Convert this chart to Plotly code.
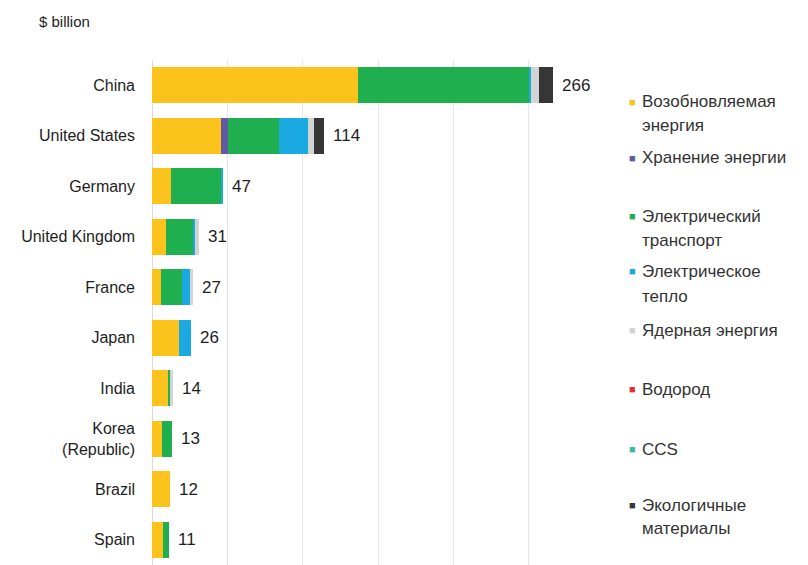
import plotly.graph_objects as go

countries = ["China", "United States", "Germany", "United Kingdom", "France",
             "Japan", "India", "Korea<br>(Republic)", "Brazil", "Spain"]
totals = [266, 114, 47, 31, 27, 26, 14, 13, 12, 11]

series_names = ["Возобновляемая энергия", "Хранение энергии", "Электрический транспорт",
                "Электрическое тепло", "Ядерная энергия", "Водород", "CCS",
                "Экологичные материалы"]
legend_lines = [["Возобновляемая", "энергия"], ["Хранение энергии"],
                ["Электрический", "транспорт"], ["Электрическое", "тепло"],
                ["Ядерная энергия"], ["Водород"], ["CCS"], ["Экологичные", "материалы"]]

renewables = [137, 46, 12.5, 9, 6, 18, 11, 6.5, 12, 7]
storage = [0, 4.5, 0, 0, 0, 0, 0, 0, 0, 0]
ev_transport = [113, 34, 33.5, 18.5, 14, 0, 1, 6.5, 0, 4]
electric_heat = [1.5, 19, 1, 1, 5.5, 8, 0, 0, 0, 0]
nuclear = [5.5, 4, 0, 2.5, 1.5, 0, 2, 0, 0, 0]
hydrogen = [0, 0, 0, 0, 0, 0, 0, 0, 0, 0]
ccs = [0, 0, 0, 0, 0, 0, 0, 0, 0, 0]
materials = [9, 6.5, 0, 0, 0, 0, 0, 0, 0, 0]

series_values = [renewables, storage, ev_transport, electric_heat, nuclear,
                 hydrogen, ccs, materials]
colors = ["#FBC31C", "#5E5AA6", "#1FAF4E", "#1AA9E1", "#D4D4D4",
          "#E0303A", "#3DB89E", "#363636"]

W, H = 808, 565
L, R, T, B = 152, 204, 60, 0
pw, ph = W - L - R, H - T - B

fig = go.Figure()
for name, vals, col in zip(series_names, series_values, colors):
    fig.add_trace(go.Bar(
        y=countries, x=vals, name=name, orientation="h",
        marker=dict(color=col, line=dict(width=0)),
        showlegend=False, hoverinfo="x+name",
    ))

# value labels
for c, t in zip(countries, totals):
    fig.add_annotation(x=t, y=c, xref="x", yref="y", text=str(t),
                       showarrow=False, xanchor="left", xshift=7,
                       font=dict(size=17, color="#1E1E1E"))

def px_to_paper(px, py):
    return (px - L) / pw, (H - B - py) / ph

# legend
legend_y = [[102, 125], [158], [216, 240], [271, 296], [330], [389], [449], [505, 528]]
for lines, ys, col in zip(legend_lines, legend_y, colors):
    sx, sy = px_to_paper(632, ys[0])
    fig.add_annotation(x=sx, y=sy, xref="paper", yref="paper", text="■",
                       showarrow=False, xanchor="center", yanchor="middle",
                       font=dict(size=11, color=col))
    for ln, yy in zip(lines, ys):
        tx, ty = px_to_paper(640, yy)
        fig.add_annotation(x=tx, y=ty, xref="paper", yref="paper", text=ln,
                           showarrow=False, xanchor="left", yanchor="middle",
                           font=dict(size=17, color="#333333"))

ux, uy = px_to_paper(37, 22)
fig.add_annotation(x=ux, y=uy, xref="paper", yref="paper", text="$ billion",
                   showarrow=False, xanchor="left", yanchor="middle",
                   font=dict(size=15, color="#1E1E1E"))

fig.update_layout(
    width=W, height=H,
    margin=dict(l=L, r=R, t=T, b=B, autoexpand=False),
    barmode="stack", bargap=0.28,
    plot_bgcolor="white", paper_bgcolor="white",
    font=dict(family="Liberation Sans, Arial, sans-serif", size=16, color="#222222"),
    xaxis=dict(range=[0, 300], tickvals=[0, 50, 100, 150, 200, 250],
               showticklabels=False, showgrid=True, gridcolor="#E6E6E6",
               gridwidth=1, zeroline=True, zerolinecolor="#DADADA",
               zerolinewidth=1, fixedrange=True, automargin=False),
    yaxis=dict(autorange="reversed", showgrid=False, ticks="", automargin=False,
               ticklabelstandoff=16, tickfont=dict(size=16, color="#1E1E1E")),
)

fig.write_html("out.html", config={"displayModeBar": False},
               post_script="document.body.style.margin='0';document.body.style.overflow='hidden';")
